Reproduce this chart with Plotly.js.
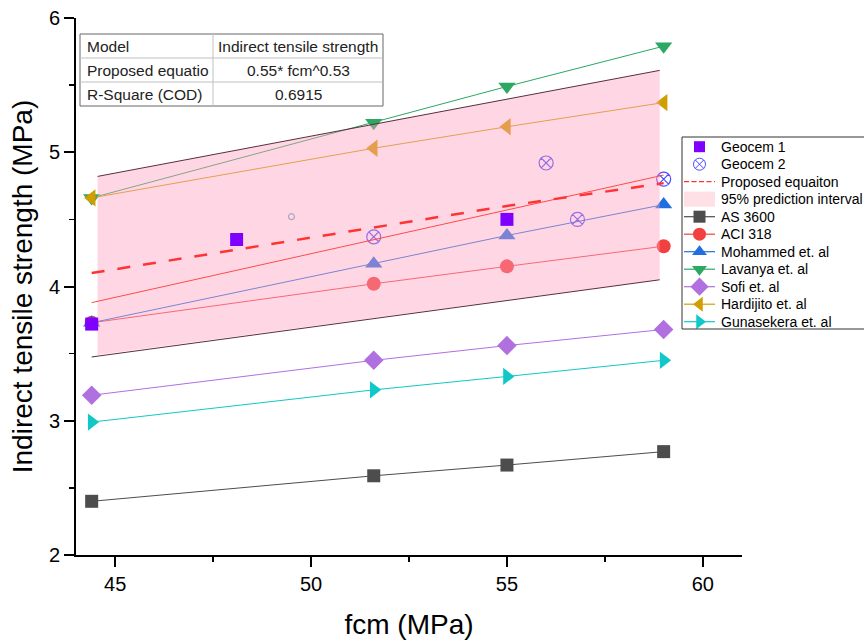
<!DOCTYPE html>
<html>
<head>
<meta charset="utf-8">
<script src="https://cdn.plot.ly/plotly-3.0.1.min.js"></script>
<style>html,body{margin:0;padding:0;background:#fff;}#chart{width:864px;height:641px;}</style>
</head>
<body>
<div id="chart"></div>
<script>
// ---- data ----
const fcm = [44.4, 51.6, 55.0, 59.0];
const as3600 = [2.40, 2.59, 2.67, 2.77];
const aci318 = [3.73, 4.02, 4.15, 4.30];
const mohammed = [3.73, 4.17, 4.38, 4.61];
const lavanya = [4.66, 5.22, 5.49, 5.79];
const sofi = [3.19, 3.45, 3.56, 3.68];
const hardijito = [4.66, 5.03, 5.19, 5.37];
const gunasekera = [2.99, 3.23, 3.33, 3.45];

const geocem1X = [44.4, 48.1, 55.0];
const geocem1Y = [3.72, 4.35, 4.50];
const geocem2X = [51.6, 56.0, 56.8, 59.0];
const geocem2Y = [4.37, 4.92, 4.50, 4.80];

const proposedX = [44.4, 51.6, 55.0, 59.0];
const proposedY = [4.10, 4.44, 4.60, 4.77];

const fitLineX = [44.4, 59.0];
const fitLineY = [3.88, 4.83];

const bandX = [44.55, 58.9];
const bandUpper = [4.82, 5.61];
const bandLower = [3.49, 4.05];
const upperLineX = [44.55, 58.9];
const upperLineY = [4.82, 5.61];
const lowerLineX = [44.4, 58.9];
const lowerLineY = [3.475, 4.05];

const strayX = [49.5];
const strayY = [4.52];

const tableRows = [
  ["Model", "Indirect tensile strength"],
  ["Proposed equatio", "0.55* fcm^0.53"],
  ["R-Square (COD)", "0.6915"]
];

const legendNames = ["Geocem 1", "Geocem 2", "Proposed equaiton", "95% prediction interval",
  "AS 3600", "ACI 318", "Mohammed et. al", "Lavanya et. al", "Sofi et. al",
  "Hardijito et. al", "Gunasekera et. al"];

// ---- styles ----
const FONT = "Liberation Sans, Arial, sans-serif";
const ST = {
  "AS 3600": {color: '#4D4D4D', symbol: 'square', size: 13, lsize: 12},
  "ACI 318": {color: '#F24040', symbol: 'circle', size: 14, lsize: 13},
  "Mohammed et. al": {color: '#1F6FE0', symbol: 'triangle-up', size: 15, lsize: 13},
  "Lavanya et. al": {color: '#2BA862', symbol: 'triangle-down', size: 15, lsize: 13},
  "Sofi et. al": {color: '#B070E0', symbol: 'diamond', size: 15, lsize: 14},
  "Hardijito et. al": {color: '#D19E00', symbol: 'triangle-left', size: 15, lsize: 13},
  "Gunasekera et. al": {color: '#10C8C8', symbol: 'triangle-right', size: 15, lsize: 13}
};
const G1 = {color: '#8000FF', symbol: 'square', size: 13, lsize: 11};
const G2 = {color: '#4B4BFF', symbol: 'circle-x-open', size: 14, lsize: 12};
const BAND_FILL = 'rgba(255,160,190,0.42)';

function series(name, y) {
  const s = ST[name];
  return {
    x: fcm, y: y, name: name, type: 'scatter', mode: 'lines+markers', showlegend: false,
    line: {color: s.color, width: 1},
    marker: {color: s.color, symbol: s.symbol, size: s.size}
  };
}

const traces = [
  series('AS 3600', as3600),
  series('ACI 318', aci318),
  series('Mohammed et. al', mohammed),
  series('Lavanya et. al', lavanya),
  series('Sofi et. al', sofi),
  series('Hardijito et. al', hardijito),
  series('Gunasekera et. al', gunasekera),
  {
    x: geocem2X, y: geocem2Y, name: 'Geocem 2', type: 'scatter', mode: 'markers', showlegend: false,
    marker: {symbol: G2.symbol, size: G2.size, color: G2.color, line: {width: 1.2}}
  },
  {
    x: bandX.concat(bandX.slice().reverse()),
    y: bandUpper.concat(bandLower.slice().reverse()),
    name: '95% prediction interval', type: 'scatter', mode: 'lines', showlegend: false,
    fill: 'toself', fillcolor: BAND_FILL,
    line: {width: 0, color: 'rgba(0,0,0,0)'}
  },
  {x: upperLineX, y: upperLineY, type: 'scatter', mode: 'lines', showlegend: false,
    line: {color: '#5A2E3C', width: 1}},
  {x: lowerLineX, y: lowerLineY, type: 'scatter', mode: 'lines', showlegend: false,
    line: {color: '#5A2E3C', width: 1}},
  {x: strayX, y: strayY, type: 'scatter', mode: 'markers', showlegend: false,
    marker: {symbol: 'circle-open', size: 6, color: '#A8A8BC', line: {width: 1.2}}},
  {x: fitLineX, y: fitLineY, type: 'scatter', mode: 'lines', showlegend: false,
    line: {color: '#FF4A4A', width: 1}},
  {
    x: proposedX, y: proposedY, name: 'Proposed equaiton', type: 'scatter', mode: 'lines', showlegend: false,
    line: {color: '#FF3333', width: 2.5, dash: '13px,13px'}
  },
  {
    x: geocem1X, y: geocem1Y, name: 'Geocem 1', type: 'scatter', mode: 'markers', showlegend: false,
    marker: {symbol: G1.symbol, size: G1.size, color: G1.color}
  }
];

// ---- geometry (pixels) ----
const W = 864, H = 641;
const L = 76, R = 742, T = 18, B = 555;

const shapes = [];
const annotations = [];

// Custom legend drawn on an overlay axis (x2/y2) measured in pixels
const legTop = 137, legBottom = 329, legLeft = 682;
const legY0 = 146.7, legStep = 17.5;
const symX0 = 684, symX1 = 715, symXc = 699.5, textX = 719;
shapes.push({type: 'rect', xref: 'x2', yref: 'y2', x0: legLeft, x1: W + 6, y0: legTop, y1: legBottom,
  line: {color: '#333', width: 1}, fillcolor: 'rgba(0,0,0,0)', layer: 'above'});
legendNames.forEach((name, i) => {
  const yc = legY0 + i * legStep;
  annotations.push({xref: 'x2', yref: 'y2', x: textX, y: yc, xanchor: 'left', yanchor: 'middle',
    text: name, showarrow: false, font: {family: FONT, size: 14, color: '#000'}});
  if (ST[name]) {
    const s = ST[name];
    traces.push({x: [symX0, symX1], y: [yc, yc], xaxis: 'x2', yaxis: 'y2', type: 'scatter', mode: 'lines',
      showlegend: false, line: {color: s.color, width: 1.2}});
    traces.push({x: [symXc], y: [yc], xaxis: 'x2', yaxis: 'y2', type: 'scatter', mode: 'markers',
      showlegend: false, marker: {color: s.color, symbol: s.symbol, size: s.lsize}});
  } else if (name === 'Geocem 1') {
    traces.push({x: [symXc], y: [yc], xaxis: 'x2', yaxis: 'y2', type: 'scatter', mode: 'markers',
      showlegend: false, marker: {color: G1.color, symbol: G1.symbol, size: G1.lsize}});
  } else if (name === 'Geocem 2') {
    traces.push({x: [symXc], y: [yc], xaxis: 'x2', yaxis: 'y2', type: 'scatter', mode: 'markers',
      showlegend: false, marker: {color: G2.color, symbol: G2.symbol, size: G2.lsize, line: {width: 1}}});
  } else if (name === 'Proposed equaiton') {
    traces.push({x: [symX0, symX1], y: [yc, yc], xaxis: 'x2', yaxis: 'y2', type: 'scatter', mode: 'lines',
      showlegend: false, line: {color: '#FF3333', width: 1.3, dash: '5px,2.5px'}});
  } else {
    shapes.push({type: 'rect', xref: 'x2', yref: 'y2', x0: symX0, x1: symX1, y0: yc - 7.5, y1: yc + 7.5,
      fillcolor: '#FFE0E6', line: {width: 0}, layer: 'above'});
  }
});

// Table in the top-left corner
const tx0 = 80, tx1 = 383, tcol = 213;
const rowY = [34, 58, 82, 106];
shapes.push({type: 'rect', xref: 'x2', yref: 'y2', x0: tx0, x1: tx1, y0: rowY[0], y1: rowY[3],
  fillcolor: '#FFFFFF', line: {color: '#666666', width: 1}, layer: 'above'});
shapes.push({type: 'line', xref: 'x2', yref: 'y2', x0: tcol, x1: tcol, y0: rowY[0], y1: rowY[3],
  line: {color: '#C0C0C0', width: 1}, layer: 'above'});
for (let i = 1; i < 3; i++) {
  shapes.push({type: 'line', xref: 'x2', yref: 'y2', x0: tx0, x1: tx1, y0: rowY[i], y1: rowY[i],
    line: {color: '#C0C0C0', width: 1}, layer: 'above'});
}
tableRows.forEach((row, i) => {
  const yc = (rowY[i] + rowY[i + 1]) / 2;
  annotations.push({xref: 'x2', yref: 'y2', x: tx0 + 5, y: yc, xanchor: 'left', yanchor: 'middle',
    text: row[0], showarrow: false, font: {family: FONT, size: 15.5, color: '#222'}});
  annotations.push({xref: 'x2', yref: 'y2', x: (tcol + tx1) / 2, y: yc, xanchor: 'center', yanchor: 'middle',
    text: row[1], showarrow: false, font: {family: FONT, size: 15.5, color: '#222'}});
});

const layout = {
  width: W, height: H,
  margin: {l: L, r: 0, t: T, b: H - B, pad: 0},
  paper_bgcolor: '#FFFFFF', plot_bgcolor: 'rgba(0,0,0,0)',
  font: {family: FONT, color: '#000'},
  showlegend: false,
  xaxis: {
    domain: [0, (R - L) / (W - L)],
    range: [44, 61], tickvals: [45, 50, 55, 60], ticktext: ['45', '50', '55', '60'],
    showline: true, linecolor: '#000', linewidth: 2, mirror: false,
    ticks: 'outside', ticklen: 10, tickwidth: 2, tickcolor: '#000',
    minor: {tickvals: [47.5, 52.5, 57.5], ticks: 'outside', ticklen: 5, tickwidth: 1.5, tickcolor: '#000'},
    showgrid: false, zeroline: false,
    tickfont: {family: FONT, size: 20, color: '#000'},
    title: {text: 'fcm (MPa)', font: {family: FONT, size: 28, color: '#000'}, standoff: 20}
  },
  yaxis: {
    domain: [0, 1],
    range: [2, 6], tickvals: [2, 3, 4, 5, 6], ticktext: ['2', '3', '4', '5', '6'],
    showline: true, linecolor: '#000', linewidth: 2, mirror: false,
    ticks: 'outside', ticklen: 10, tickwidth: 2, tickcolor: '#000',
    minor: {tickvals: [2.5, 3.5, 4.5, 5.5], ticks: 'outside', ticklen: 5, tickwidth: 1.5, tickcolor: '#000'},
    showgrid: false, zeroline: false,
    tickfont: {family: FONT, size: 20, color: '#000'},
    title: {text: 'Indirect tensile strength (MPa)', font: {family: FONT, size: 28, color: '#000'}, standoff: 8}
  },
  xaxis2: {domain: [0, 1], range: [L, W], anchor: 'y2', visible: false, showgrid: false, zeroline: false},
  yaxis2: {domain: [0, 1], range: [B, T], anchor: 'x2', visible: false, showgrid: false, zeroline: false},
  shapes: shapes,
  annotations: annotations
};

Plotly.newPlot('chart', traces, layout, {displayModeBar: false, staticPlot: true});
</script>
</body>
</html>
